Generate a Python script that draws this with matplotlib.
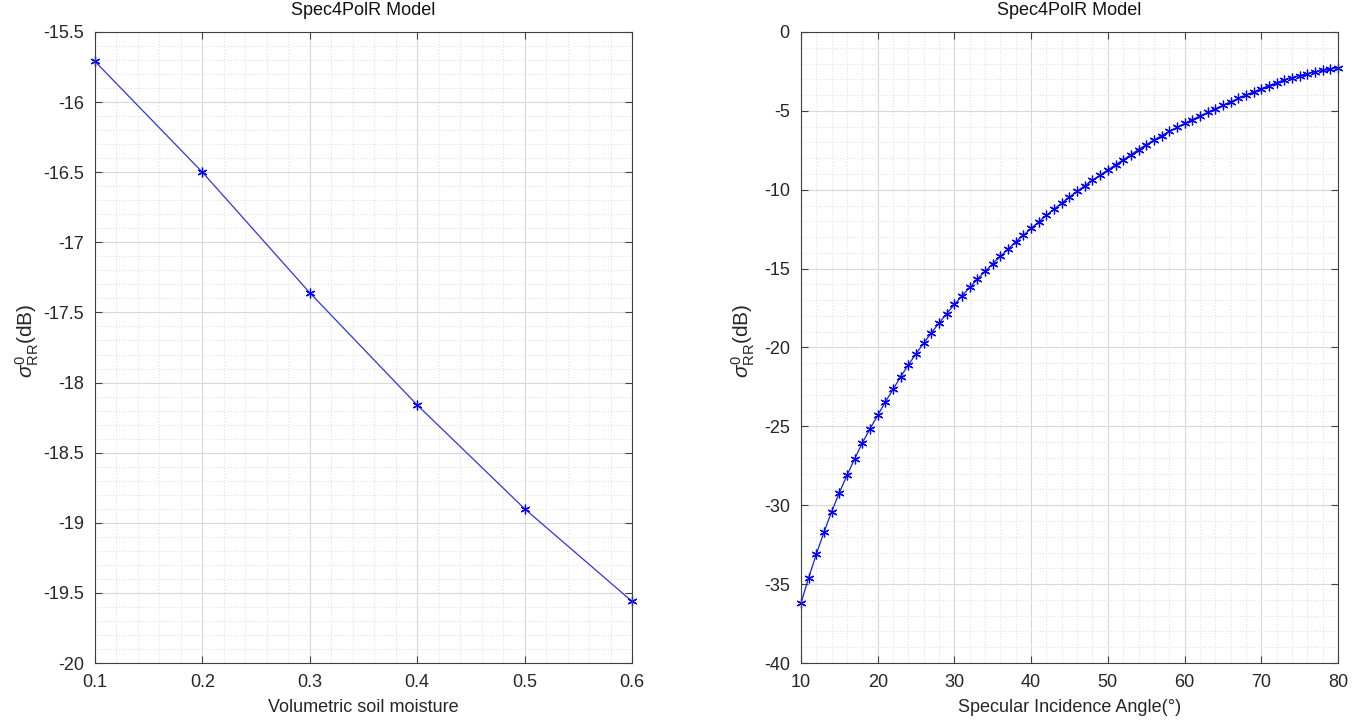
import numpy as np
import matplotlib
matplotlib.use("Agg")
import matplotlib.pyplot as plt
from matplotlib.ticker import MultipleLocator, FormatStrFormatter

plt.rcParams["font.family"] = ["Liberation Sans", "DejaVu Sans"]
plt.rcParams["mathtext.fontset"] = "custom"
plt.rcParams["mathtext.rm"] = "Liberation Sans"
plt.rcParams["mathtext.it"] = "Liberation Sans:italic"
plt.rcParams["axes.unicode_minus"] = False

# soil moisture sweep
moisture = [0.1, 0.2, 0.3, 0.4, 0.5, 0.6]
sigma_moist = [-15.71, -16.50, -17.36, -18.16, -18.90, -19.56]

# incidence angle sweep, 10..80 deg
angle = list(range(10, 81))
sigma_angle = [
    -36.2, -34.6, -33.1, -31.7, -30.4, -29.2, -28.1, -27.05, -26.05, -25.15,
    -24.3, -23.45, -22.65, -21.85, -21.1, -20.4, -19.72, -19.07, -18.45, -17.85,
    -17.27, -16.72, -16.18, -15.67, -15.17, -14.69, -14.22, -13.76, -13.3, -12.88,
    -12.45, -12.03, -11.62, -11.22, -10.84, -10.46, -10.1, -9.74, -9.4, -9.07,
    -8.74, -8.42, -8.1, -7.78, -7.45, -7.15, -6.85, -6.57, -6.3, -6.05,
    -5.8, -5.56, -5.33, -5.1, -4.87, -4.65, -4.43, -4.21, -4.0, -3.8,
    -3.6, -3.4, -3.21, -3.04, -2.89, -2.76, -2.64, -2.53, -2.44, -2.35,
    -2.27,
]

txt = "#262626"
ylab = r"$\sigma^{0}_{\mathrm{RR}}$(dB)"
star = (6, 2, 0)  # matlab-like asterisk

fig = plt.figure(figsize=(13.65, 7.22), dpi=100)
ax1 = fig.add_axes([0.0696, 0.0817, 0.3934, 0.874])
ax2 = fig.add_axes([0.5868, 0.0817, 0.3934, 0.874])


def style(ax, xmaj, xmin, ymaj, ymin, label_x):
    ax.xaxis.set_major_locator(MultipleLocator(xmaj))
    ax.xaxis.set_minor_locator(MultipleLocator(xmin))
    ax.yaxis.set_major_locator(MultipleLocator(ymaj))
    ax.yaxis.set_minor_locator(MultipleLocator(ymin))
    ax.xaxis.set_major_formatter(FormatStrFormatter("%g"))
    ax.yaxis.set_major_formatter(FormatStrFormatter("%g"))
    ax.grid(which="major", color="#d8d8d8", linestyle="-", linewidth=0.8)
    ax.grid(which="minor", color="#e2e2e2", linestyle=":", linewidth=0.8)
    ax.set_axisbelow(True)
    ax.tick_params(which="major", direction="in", length=5, width=0.8,
                   colors="#404040", labelcolor=txt, labelsize=13,
                   top=True, right=True, pad=8)
    ax.tick_params(which="minor", length=0)
    for s in ax.spines.values():
        s.set_color("#404040")
        s.set_linewidth(0.8)
    ax.set_title("Spec4PolR Model", fontsize=13, color="#111111", pad=12)
    ax.set_ylabel(ylab, fontsize=15, color=txt)
    ax.yaxis.set_label_coords(label_x, 0.51)


ax1.plot(moisture, sigma_moist, color="#3333dd", linewidth=0.9,
         marker=star, markersize=7, markeredgecolor="#0000ff",
         markeredgewidth=0.9, clip_on=False)
ax1.set_xlim(0.1, 0.6)
ax1.set_ylim(-20, -15.5)
style(ax1, 0.1, 0.02, 0.5, 0.1, -0.101)
ax1.set_xlabel("Volumetric soil moisture", fontsize=13, color=txt, labelpad=6)

ax2.plot(angle, sigma_angle, color="#1a1aee", linewidth=0.9,
         marker=star, markersize=7, markeredgecolor="#0000ff",
         markeredgewidth=0.9, clip_on=False)
ax2.set_xlim(10, 80)
ax2.set_ylim(-40, 0)
style(ax2, 10, 2, 5, 1, -0.082)
ax2.set_xlabel("Specular Incidence Angle(°)", fontsize=13, color=txt, labelpad=6)

fig.savefig("out.png", dpi=100, facecolor="white")
